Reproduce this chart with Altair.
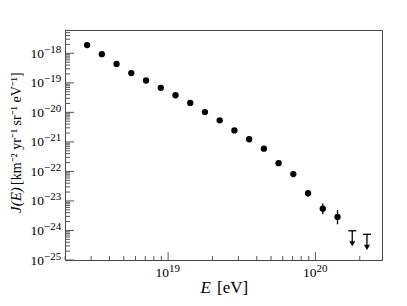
import altair as alt
import pandas as pd

# ---- data ----
log_e = [18.45, 18.55, 18.65, 18.75, 18.85, 18.95, 19.05, 19.15, 19.25,
         19.35, 19.45, 19.55, 19.65, 19.75, 19.85, 19.95, 20.05, 20.15]
log_j = [-17.72, -18.03, -18.36, -18.67, -18.92, -19.17, -19.42, -19.68, -19.99,
         -20.27, -20.61, -20.91, -21.23, -21.72, -22.09, -22.74, -23.26, -23.54]
err_up = [0.01, 0.01, 0.01, 0.01, 0.01, 0.02, 0.02, 0.02, 0.03,
          0.03, 0.04, 0.05, 0.06, 0.07, 0.08, 0.10, 0.17, 0.23]
err_dn = [0.01, 0.01, 0.01, 0.01, 0.01, 0.02, 0.02, 0.02, 0.03,
          0.03, 0.04, 0.05, 0.06, 0.07, 0.09, 0.11, 0.19, 0.25]
lim_log_e = [20.25, 20.35]
lim_log_j = [-24.01, -24.13]

y_exps = [-25, -24, -23, -22, -21, -20, -19, -18]
y_exp_labels = ["\u221225", "\u221224", "\u221223", "\u221222",
                "\u221221", "\u221220", "\u221219", "\u221218"]
x_exps = [19, 20]
x_exp_labels = ["19", "20"]

X_DOMAIN = [10 ** 18.30, 10 ** 20.452]
Y_DOMAIN = [1e-25, 10 ** -17.21]

W, H = 317, 230
SERIF = "Liberation Serif"
TICK = "#555555"

pts = pd.DataFrame({
    "E": [10 ** v for v in log_e],
    "J": [10 ** v for v in log_j],
    "lo": [10 ** (v - d) for v, d in zip(log_j, err_dn)],
    "hi": [10 ** (v + u) for v, u in zip(log_j, err_up)],
})
lims = pd.DataFrame({
    "E": [10 ** v for v in lim_log_e],
    "J": [10 ** v for v in lim_log_j],
})

# axis tick values (decades and log minor ticks inside the domain)
ymaj = pd.DataFrame({"v": [10.0 ** e for e in y_exps], "exp": y_exp_labels})
ymin = pd.DataFrame({"v": [m * 10.0 ** e for e in range(-25, -17) for m in range(2, 10)
                           if m * 10.0 ** e <= Y_DOMAIN[1]]})
xmaj = pd.DataFrame({"v": [10.0 ** e for e in x_exps], "exp": x_exp_labels})
xmin = pd.DataFrame({"v": [m * 10.0 ** e for e in range(18, 21) for m in range(2, 10)
                           if X_DOMAIN[0] <= m * 10.0 ** e <= X_DOMAIN[1]]})

xs = alt.Scale(type="log", domain=X_DOMAIN, nice=False)
ys = alt.Scale(type="log", domain=Y_DOMAIN, nice=False)

def X(f):
    return alt.X(f, type="quantitative", scale=xs, axis=None)

def Y(f):
    return alt.Y(f, type="quantitative", scale=ys, axis=None)

layers = []

# ticks (drawn inside the frame)
layers.append(alt.Chart(ymaj).mark_rule(color=TICK, strokeWidth=1).encode(
    y=Y("v"), x=alt.value(0), x2=alt.value(9)))
layers.append(alt.Chart(ymin).mark_rule(color=TICK, strokeWidth=1).encode(
    y=Y("v"), x=alt.value(0), x2=alt.value(5)))
layers.append(alt.Chart(xmaj).mark_rule(color=TICK, strokeWidth=1).encode(
    x=X("v"), y=alt.value(H), y2=alt.value(H - 8)))
layers.append(alt.Chart(xmin).mark_rule(color=TICK, strokeWidth=1).encode(
    x=X("v"), y=alt.value(H), y2=alt.value(H - 4)))

# tick labels 10^n
layers.append(alt.Chart(ymaj).mark_text(text="10", align="right", baseline="alphabetic",
                                        font=SERIF, fontSize=13.5, dy=4.5, color="black").encode(
    y=Y("v"), x=alt.value(-21)))
layers.append(alt.Chart(ymaj).mark_text(align="left", baseline="alphabetic",
                                        font=SERIF, fontSize=11, dy=-0.5, color="black").encode(
    y=Y("v"), x=alt.value(-21), text="exp:N"))
layers.append(alt.Chart(xmaj).mark_text(text="10", align="right", baseline="alphabetic",
                                        font=SERIF, fontSize=13.5, dx=1, color="black").encode(
    x=X("v"), y=alt.value(H + 17)))
layers.append(alt.Chart(xmaj).mark_text(align="left", baseline="alphabetic",
                                        font=SERIF, fontSize=11, dx=1, color="black").encode(
    x=X("v"), y=alt.value(H + 11.5), text="exp:N"))

# error bars and points
layers.append(alt.Chart(pts).mark_rule(color="black", strokeWidth=1.3).encode(
    x=X("E"), y=Y("lo"), y2="hi"))
layers.append(alt.Chart(pts).mark_circle(color="black", opacity=1, size=40).encode(
    x=X("E"), y=Y("J")))

# upper limits
layers.append(alt.Chart(lims).mark_rule(color="black", strokeWidth=1.3, xOffset=-4, x2Offset=4).encode(
    x=X("E"), x2="E", y=Y("J")))
layers.append(alt.Chart(lims).mark_rule(color="black", strokeWidth=1.3, y2Offset=12).encode(
    x=X("E"), y=Y("J"), y2="J"))
layers.append(alt.Chart(lims).mark_point(shape="triangle-down", filled=True, color="black",
                                         opacity=1, size=36, yOffset=13).encode(
    x=X("E"), y=Y("J")))

# axis titles
title_df = pd.DataFrame({"k": [0]})
layers.append(alt.Chart(title_df).mark_text(text="E", align="right", baseline="alphabetic",
                                            font=SERIF, fontSize=17, fontStyle="italic", color="black").encode(
    x=alt.value(146), y=alt.value(H + 33)))
layers.append(alt.Chart(title_df).mark_text(text="[eV]", align="left", baseline="alphabetic",
                                            font=SERIF, fontSize=17, color="black").encode(
    x=alt.value(152), y=alt.value(H + 33)))
layers.append(alt.Chart(title_df).mark_text(text="J(E)", align="left", baseline="alphabetic",
                                            angle=270, font=SERIF, fontSize=15, fontStyle="italic",
                                            color="black").encode(
    x=alt.value(-44), y=alt.value(183)))
layers.append(alt.Chart(title_df).mark_text(text="[km\u207b\u00b2 yr\u207b\u00b9 sr\u207b\u00b9 eV\u207b\u00b9]",
                                            align="left", baseline="alphabetic",
                                            angle=270, font=SERIF, fontSize=14, color="black").encode(
    x=alt.value(-44), y=alt.value(155)))

chart = alt.layer(*layers).properties(
    width=W, height=H,
    autosize=alt.AutoSizeParams(type="none"),
    padding={"left": 57, "top": 22, "right": 17, "bottom": 38},
    background="white",
).configure_view(stroke="#444444", strokeWidth=1)

chart.save("out.html", embed_options={"renderer": "svg", "actions": False})
